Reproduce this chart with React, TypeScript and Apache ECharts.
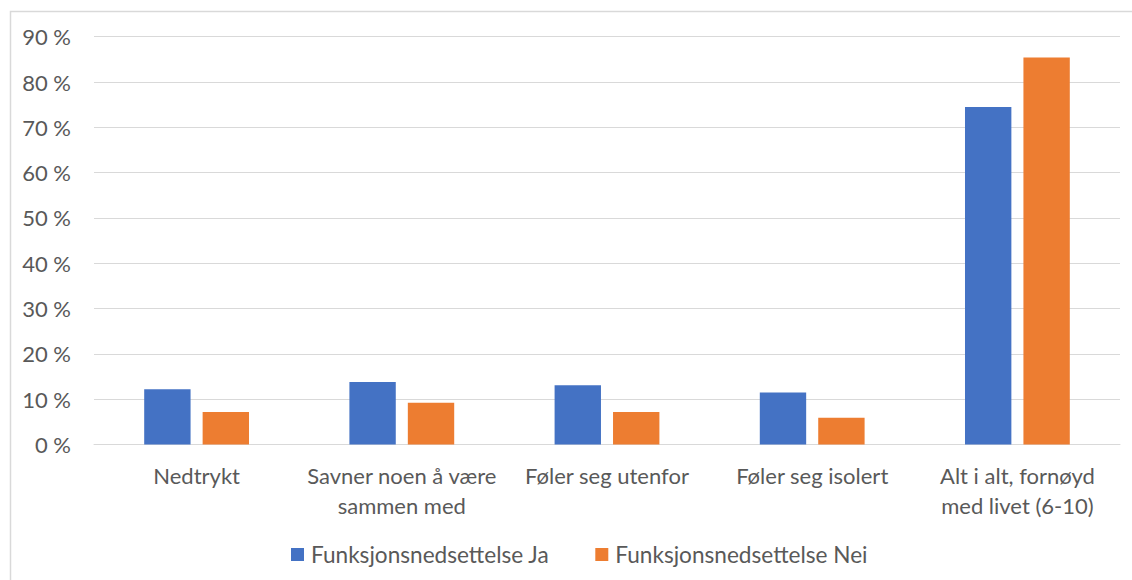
import React, { useEffect, useRef } from "react";
import * as echarts from "echarts";

const categories = [
  "Nedtrykt",
  "Savner noen å være\nsammen med",
  "Føler seg utenfor",
  "Føler seg isolert",
  "Alt i alt, fornøyd\nmed livet (6-10)",
];
const seriesNames = ["Funksjonsnedsettelse Ja", "Funksjonsnedsettelse Nei"];
const valuesJa = [12.2, 13.8, 13.1, 11.5, 74.5];
const valuesNei = [7.2, 9.2, 7.2, 5.9, 85.4];

const FONT = "Lato";
const TEXT = "#595959";
const GRID = "#d9d9d9";

export default function App() {
  const ref = useRef<HTMLDivElement>(null);
  useEffect(() => {
    if (!ref.current) return;
    const chart = echarts.init(ref.current, undefined, { renderer: "svg" });
    chart.setOption({
      animation: false,
      backgroundColor: "#ffffff",
      textStyle: { fontFamily: FONT, color: TEXT },
      graphic: [
        {
          type: "rect",
          shape: { x: 10.5, y: 11.5, width: 1200, height: 700 },
          style: { fill: "none", stroke: GRID, lineWidth: 1.5 },
          silent: true,
        },
      ],
      grid: { left: 94, right: 12, top: 36.7, bottom: 135.5, containLabel: false },
      legend: {
        left: 291,
        top: 543,
        padding: 0,
        icon: "rect",
        itemWidth: 13,
        itemHeight: 13,
        itemGap: 46,
        textStyle: { fontFamily: FONT, fontSize: 22.6, color: TEXT, padding: [0, 0, 0, 2] },
        data: seriesNames,
      },
      xAxis: {
        type: "category",
        data: categories,
        axisLine: { show: true, lineStyle: { color: GRID, width: 1 } },
        axisTick: { show: false },
        axisLabel: {
          interval: 0,
          margin: 16,
          fontFamily: FONT,
          fontSize: 22,
          lineHeight: 30,
          color: TEXT,
        },
      },
      yAxis: {
        type: "value",
        min: 0,
        max: 90,
        interval: 10,
        axisLine: { show: false },
        axisTick: { show: false },
        splitLine: { lineStyle: { color: GRID, width: 1 } },
        axisLabel: {
          formatter: "{value} %",
          margin: 23,
          fontFamily: FONT,
          fontSize: 22,
          color: TEXT,
        },
      },
      series: [
        {
          name: seriesNames[0],
          type: "bar",
          data: valuesJa,
          barWidth: "22.6%",
          barGap: "26%",
          itemStyle: { color: "#4472C4" },
        },
        {
          name: seriesNames[1],
          type: "bar",
          data: valuesNei,
          barWidth: "22.6%",
          barGap: "26%",
          itemStyle: { color: "#ED7D31" },
        },
      ],
    });
    return () => chart.dispose();
  }, []);
  return (
    <div
      ref={ref}
      style={{ position: "fixed", left: 0, top: 0, width: 1132, height: 580 }}
    />
  );
}
